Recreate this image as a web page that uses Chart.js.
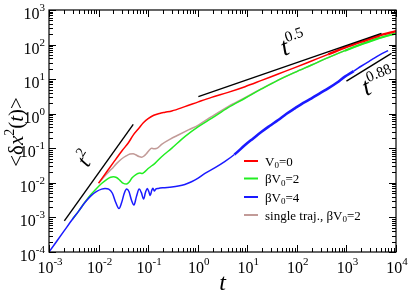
<!DOCTYPE html>
<html>
<head>
<meta charset="utf-8">
<script src="https://cdn.jsdelivr.net/npm/chart.js@4.4.1/dist/chart.umd.min.js"></script>
<style>
  html, body { margin: 0; padding: 0; background: #fff; }
  #wrap { width: 409px; height: 293px; position: relative; }
</style>
</head>
<body>
<div id="wrap"><canvas id="msd"></canvas></div>
<script>
// MSD curves (t, <dx^2(t)>)
const tRed = [0.01, 0.015, 0.02, 0.03, 0.04, 0.05, 0.065, 0.08, 0.1, 0.13, 0.17, 0.22, 0.3, 0.55, 1.03, 1.9, 4.1, 9, 19.4, 42, 91, 198, 428, 929, 2014, 4370, 10000];
const msdRed = [0.0098, 0.022, 0.039, 0.086, 0.145, 0.24, 0.38, 0.55, 0.72, 0.9, 1.02, 1.1, 1.2, 1.6, 2.2, 2.97, 4.15, 6.05, 9.2, 14.1, 21.5, 33.5, 52, 81, 121, 177, 245];

const tGreen = [0.003, 0.004, 0.0053, 0.007, 0.009, 0.0115, 0.0145, 0.0175, 0.0198, 0.023, 0.027, 0.031, 0.0368, 0.042, 0.047, 0.055, 0.062, 0.068, 0.076, 0.084, 0.1, 0.137, 0.187, 0.297, 0.55, 1.03, 1.9, 4.1, 9, 19.4, 42, 91, 198, 428, 929, 2014, 4370, 10000];
const msdGreen = [0.0009, 0.00155, 0.00275, 0.0046, 0.0068, 0.0096, 0.0125, 0.0145, 0.0151, 0.0143, 0.0118, 0.0098, 0.0092, 0.0108, 0.0138, 0.0168, 0.0186, 0.0192, 0.0186, 0.0205, 0.026, 0.0367, 0.057, 0.0995, 0.217, 0.42, 0.73, 1.5, 2.8, 5.2, 9.4, 15.7, 25.6, 41.8, 66.6, 102, 151, 211];

const tBlue = [0.001, 0.002, 0.003, 0.004, 0.0053, 0.007, 0.009, 0.0115, 0.0135, 0.016, 0.019, 0.022, 0.0258, 0.029, 0.033, 0.0368, 0.041, 0.046, 0.0518, 0.058, 0.066, 0.073, 0.081, 0.088, 0.096, 0.103, 0.11, 0.118, 0.125, 0.133, 0.142, 0.16, 0.2, 0.3, 0.405, 0.55, 0.75, 1.0, 1.4, 2.2, 3.5, 5.5, 9, 13, 19.4, 28, 42, 62, 91, 135, 198, 300, 428, 650, 929, 1400, 2014, 3200, 4800, 6930];
const msdBlue = [0.0001, 0.0004, 0.0009, 0.00155, 0.0027, 0.0042, 0.0056, 0.0066, 0.0069, 0.0066, 0.005, 0.0028, 0.0018, 0.0026, 0.005, 0.0066, 0.0056, 0.0032, 0.0023, 0.004, 0.0066, 0.0052, 0.0034, 0.0052, 0.0069, 0.0056, 0.0043, 0.006, 0.007, 0.0058, 0.0066, 0.0069, 0.0072, 0.0076, 0.0081, 0.009, 0.0108, 0.0135, 0.0188, 0.027, 0.041, 0.066, 0.124, 0.19, 0.3, 0.44, 0.66, 1.0, 1.43, 2.05, 2.8, 4.0, 5.4, 8.0, 11.8, 17, 24, 36, 51, 67];

const tGray = [0.01, 0.0135, 0.0183, 0.023, 0.029, 0.036, 0.043, 0.05, 0.056, 0.065, 0.074, 0.083, 0.093, 0.105, 0.117, 0.132, 0.147, 0.187, 0.28, 0.405, 0.65, 1.03, 1.9, 4.1, 9, 19.4, 42, 91, 198, 428, 929, 2014, 4370, 10000];
const msdGray = [0.0098, 0.016, 0.025, 0.036, 0.049, 0.06, 0.068, 0.07, 0.065, 0.058, 0.055, 0.06, 0.071, 0.088, 0.1, 0.097, 0.098, 0.13, 0.185, 0.242, 0.34, 0.47, 0.82, 1.6, 2.9, 5.3, 9.4, 15.7, 25.6, 41.8, 66.6, 102, 151, 211];

// power-law guide segments (end points)
const guideT2 = [[0.00204, 0.00079], [0.0501, 0.49]];
const guideT05 = [[1.03, 3.11], [5090, 211]];
const guideT088 = [[1000, 8.8], [8100, 55.8]];

const legendLabels = ['V0=0', 'βV0=2', 'βV0=4', 'single traj., βV0=2'];
const seriesColors = ['#ff0000', '#22ee22', '#1a1aff', '#c29b98'];

const xDecades = [-3, -2, -1, 0, 1, 2, 3, 4];
const yDecades = [-4, -3, -2, -1, 0, 1, 2, 3];

const SERIF = '"Liberation Serif", "Times New Roman", serif';

function pts(ts, vs) {
  return ts.map((t, i) => ({ x: t, y: vs[i] }));
}
function guide(seg) {
  return seg.map(p => ({ x: p[0], y: p[1] }));
}

function drawPow(ctx, base, exp, x, y, baseFont, expFont, rise, align) {
  ctx.font = baseFont;
  const wb = ctx.measureText(base).width;
  ctx.font = expFont;
  const we = ctx.measureText(exp).width;
  let x0 = x;
  if (align === 'center') x0 = x - (wb + we) / 2;
  if (align === 'right') x0 = x - (wb + we);
  ctx.textAlign = 'left';
  ctx.font = baseFont;
  ctx.fillText(base, x0, y);
  ctx.font = expFont;
  ctx.fillText(exp, x0 + wb, y - rise);
}

// text runs: [text, style] with style '', 'i', 'sup', 'sub'
function fontFor(style, size) {
  if (style === 'i') return 'italic ' + size + 'px ' + SERIF;
  if (style === 'sup' || style === 'sub') return Math.round(size * 0.68) + 'px ' + SERIF;
  return size + 'px ' + SERIF;
}
function runWidth(ctx, runs, size) {
  let w = 0;
  runs.forEach(r => {
    ctx.font = fontFor(r[1], size);
    w += ctx.measureText(r[0]).width;
  });
  return w;
}
function drawRuns(ctx, runs, x, y, size) {
  let cx = x;
  ctx.textAlign = 'left';
  runs.forEach(r => {
    ctx.font = fontFor(r[1], size);
    let dy = 0;
    if (r[1] === 'sup') dy = -size * 0.42;
    if (r[1] === 'sub') dy = size * 0.22;
    ctx.fillText(r[0], cx, y + dy);
    cx += ctx.measureText(r[0]).width;
  });
}
function labelRuns(label) {
  const parts = label.split('V0');
  const runs = [];
  parts.forEach((p, i) => {
    if (i > 0) { runs.push(['V', '']); runs.push(['0', 'sub']); }
    if (p) runs.push([p, '']);
  });
  return runs;
}

const decorPlugin = {
  id: 'decor',
  afterDraw(chart) {
    const ctx = chart.ctx;
    const a = chart.chartArea;
    const xs = chart.scales.x, ys = chart.scales.y;
    ctx.save();
    ctx.strokeStyle = '#000';
    ctx.fillStyle = '#000';
    ctx.lineWidth = 1.2;
    ctx.strokeRect(a.left, a.top, a.right - a.left, a.bottom - a.top);

    // ticks on all four sides, pointing inwards
    ctx.lineWidth = 1;
    ctx.beginPath();
    xDecades.forEach((d, i) => {
      const px = Math.round(xs.getPixelForValue(Math.pow(10, d))) + 0.5;
      ctx.moveTo(px, a.bottom); ctx.lineTo(px, a.bottom - 7);
      ctx.moveTo(px, a.top); ctx.lineTo(px, a.top + 7);
      if (i < xDecades.length - 1) {
        for (let k = 2; k <= 9; k++) {
          const mx = Math.round(xs.getPixelForValue(k * Math.pow(10, d))) + 0.5;
          ctx.moveTo(mx, a.bottom); ctx.lineTo(mx, a.bottom - 4);
          ctx.moveTo(mx, a.top); ctx.lineTo(mx, a.top + 4);
        }
      }
    });
    yDecades.forEach((d, i) => {
      const py = Math.round(ys.getPixelForValue(Math.pow(10, d))) + 0.5;
      ctx.moveTo(a.left, py); ctx.lineTo(a.left + 7, py);
      ctx.moveTo(a.right, py); ctx.lineTo(a.right - 7, py);
      if (i < yDecades.length - 1) {
        for (let k = 2; k <= 9; k++) {
          const my = Math.round(ys.getPixelForValue(k * Math.pow(10, d))) + 0.5;
          ctx.moveTo(a.left, my); ctx.lineTo(a.left + 4, my);
          ctx.moveTo(a.right, my); ctx.lineTo(a.right - 4, my);
        }
      }
    });
    ctx.stroke();

    // tick labels 10^n
    const bf = '16px ' + SERIF, ef = '11px ' + SERIF;
    ctx.textBaseline = 'alphabetic';
    xDecades.forEach(d => {
      const px = xs.getPixelForValue(Math.pow(10, d));
      drawPow(ctx, '10', String(d), px + 1, a.bottom + 21, bf, ef, 8, 'center');
    });
    yDecades.forEach(d => {
      const py = ys.getPixelForValue(Math.pow(10, d));
      drawPow(ctx, '10', String(d), a.left - 4, py + 9, bf, ef, 8, 'right');
    });

    // axis titles
    ctx.font = 'italic 24px ' + SERIF;
    ctx.textAlign = 'center';
    ctx.fillText('t', (a.left + a.right) / 2, 290);

    const yRuns = [['<δ', ''], ['x', 'i'], ['2', 'sup'], ['(', ''], ['t', 'i'], [')>', '']];
    const ySize = 21;
    const yw = runWidth(ctx, yRuns, ySize);
    ctx.save();
    ctx.translate(23, 132);
    ctx.rotate(-Math.PI / 2);
    drawRuns(ctx, yRuns, -yw / 2, 0, ySize);
    ctx.restore();

    // power-law annotations
    const annot = (base, exp, x, y, deg, bs, es, rise) => {
      ctx.save();
      ctx.translate(x, y);
      ctx.rotate(deg * Math.PI / 180);
      drawPow(ctx, base, exp, 0, 0, 'italic ' + bs + 'px ' + SERIF, es + 'px ' + SERIF, rise, 'left');
      ctx.restore();
    };
    annot('t', '2', 88, 168, -58, 22, 14, 10);
    annot('t', '0.5', 284, 56, -20, 26, 15, 12);
    annot('t', '0.88', 366, 96, -22, 26, 15, 12);

    // legend
    const lx = 244, ly = [161, 178.5, 197, 215];
    legendLabels.forEach((lab, i) => {
      ctx.strokeStyle = seriesColors[i];
      ctx.lineWidth = 2;
      ctx.beginPath();
      ctx.moveTo(lx, ly[i]); ctx.lineTo(lx + 14, ly[i]);
      ctx.stroke();
      ctx.fillStyle = '#000';
      drawRuns(ctx, labelRuns(lab), lx + 21, ly[i] + 4.5, 13);
    });
    ctx.restore();
  }
};

const lineStyle = (color, order, extra) => Object.assign({
  borderColor: color,
  backgroundColor: color,
  borderWidth: 1.5,
  pointRadius: 0,
  fill: false,
  cubicInterpolationMode: 'monotone',
  order: order
}, extra || {});

// noisy stretches of the averaged curves look thicker in the figure
const bandWidth = (lo, hi, w) => ({
  borderWidth: c => (c.p0.parsed.x >= lo && c.p1.parsed.x <= hi ? w : 1.5)
});

new Chart(document.getElementById('msd'), {
  type: 'line',
  data: {
    datasets: [
      lineStyle('#000', 0, { data: guide(guideT2), cubicInterpolationMode: 'default', borderWidth: 1.4 }),
      lineStyle('#000', 0, { data: guide(guideT05), cubicInterpolationMode: 'default', borderWidth: 1.4 }),
      lineStyle('#000', 0, { data: guide(guideT088), cubicInterpolationMode: 'default', borderWidth: 1.4 }),
      lineStyle(seriesColors[0], 1, { data: pts(tRed, msdRed), segment: bandWidth(300, 20000, 2.4) }),
      lineStyle(seriesColors[2], 2, { data: pts(tBlue, msdBlue), segment: bandWidth(5, 1500, 2.6) }),
      lineStyle(seriesColors[1], 3, { data: pts(tGreen, msdGreen), segment: bandWidth(500, 20000, 2.2) }),
      lineStyle(seriesColors[3], 4, { data: pts(tGray, msdGray) })
    ]
  },
  options: {
    responsive: true,
    maintainAspectRatio: false,
    animation: false,
    parsing: false,
    layout: { padding: { left: 49, top: 10, right: 13, bottom: 41 } },
    plugins: { legend: { display: false }, tooltip: { enabled: false } },
    scales: {
      x: { type: 'logarithmic', min: 0.001, max: 10000, display: false },
      y: { type: 'logarithmic', min: 0.0001, max: 1000, display: false }
    }
  },
  plugins: [decorPlugin]
});
</script>
</body>
</html>
